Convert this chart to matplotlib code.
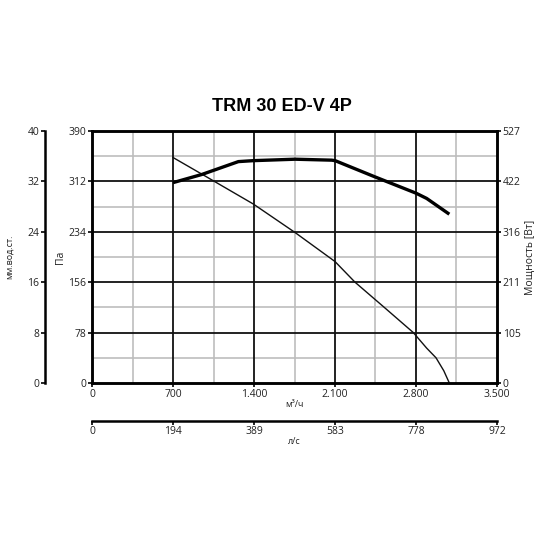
import matplotlib
matplotlib.use("Agg")
import matplotlib.pyplot as plt
import numpy as np

# Data
flow_pressure = [700, 1000, 1394, 1754, 2100, 2273, 2526, 2777, 2892, 2973, 3040, 3088]
pressure_pa = [349, 318, 277, 233, 188, 156, 117, 78, 54, 39, 19, 0]
flow_power = [700, 948, 1265, 1394, 1754, 2072, 2101, 2446, 2800, 2892, 3088]
power_w = [419, 436, 463, 465, 468, 466, 465, 431, 397, 386, 353]

x_ticks = [0, 700, 1400, 2100, 2800, 3500]
x_labels = ["0", "700", "1.400", "2.100", "2.800", "3.500"]
pa_ticks = [0, 78, 156, 234, 312, 390]
mm_labels = ["0", "8", "16", "24", "32", "40"]
w_labels = ["0", "105", "211", "316", "422", "527"]
ls_labels = ["0", "194", "389", "583", "778", "972"]

plt.rcParams['font.family'] = ['Open Sans', 'DejaVu Sans']
fs = 7.5
tc = '#222222'

fig = plt.figure(figsize=(5.5, 5.5), dpi=100)
ax = fig.add_axes([92/550, 1-383/550, 405/550, 252/550])
ax.set_xlim(0, 3500)
ax.set_ylim(0, 390)

# grid
for xv in np.arange(350, 3500, 700):
    ax.axvline(xv, color='#bdbdbd', lw=1.2, zorder=1)
for yv in np.arange(39, 390, 78):
    ax.axhline(yv, color='#bdbdbd', lw=1.2, zorder=1)
for xv in x_ticks[1:-1]:
    ax.axvline(xv, color='#111111', lw=1.3, zorder=2)
for yv in pa_ticks[1:-1]:
    ax.axhline(yv, color='#111111', lw=1.3, zorder=2)

for s in ax.spines.values():
    s.set_linewidth(1.8)

ax.plot(flow_pressure, pressure_pa, color='#111111', lw=1.0, zorder=4)
ax.set_xticks(x_ticks)
ax.set_xticklabels(x_labels, fontsize=fs, color=tc)
ax.set_yticks(pa_ticks)
ax.set_yticklabels([str(v) for v in pa_ticks], fontsize=fs, color=tc)
ax.tick_params(length=3, width=1.2, pad=1)
ax.set_ylabel("Па", fontsize=fs, labelpad=2, color=tc)
ax.set_xlabel("м³/ч", fontsize=fs-1, labelpad=0, color=tc)

ax2 = ax.twinx()
ax2.set_ylim(0, 527)
ax2.plot(flow_power, power_w, color='black', lw=2.4, zorder=5,
         solid_capstyle='butt', solid_joinstyle='round')
ax2.set_yticks(np.linspace(0, 527, 6))
ax2.set_yticklabels(w_labels, fontsize=fs, color=tc)
ax2.tick_params(length=3, width=1.2, pad=1)
ax2.set_ylabel("Мощность [Вт]", fontsize=fs, labelpad=3, color=tc)
for s in ax2.spines.values():
    s.set_linewidth(1.8)

sec = ax.secondary_yaxis(-0.116, functions=(lambda p: p/9.75, lambda m: m*9.75))
sec.set_yticks([0, 8, 16, 24, 32, 40])
sec.set_yticklabels(mm_labels, fontsize=fs, color=tc)
sec.spines['left'].set_linewidth(1.8)
sec.tick_params(length=3, width=1.2, pad=1)
sec.set_ylabel("мм.вод.ст.", fontsize=fs-1, labelpad=10, color=tc)

secx = ax.secondary_xaxis(-0.150, functions=(lambda q: q/3.6, lambda l: l*3.6))
secx.set_xticks(np.linspace(0, 3500/3.6, 6))
secx.set_xticklabels(ls_labels, fontsize=fs, color=tc)
secx.spines['bottom'].set_linewidth(1.8)
secx.tick_params(length=3, width=1.2, pad=1)
secx.set_xlabel("л/с", fontsize=fs-1, labelpad=0, color=tc)

fig.text(282/550, 1-106.5/550, "TRM 30 ED-V 4P", ha='center', va='center',
         fontsize=13, fontweight='bold', family='Liberation Sans')

fig.savefig("out.png", dpi=100, facecolor='white')
